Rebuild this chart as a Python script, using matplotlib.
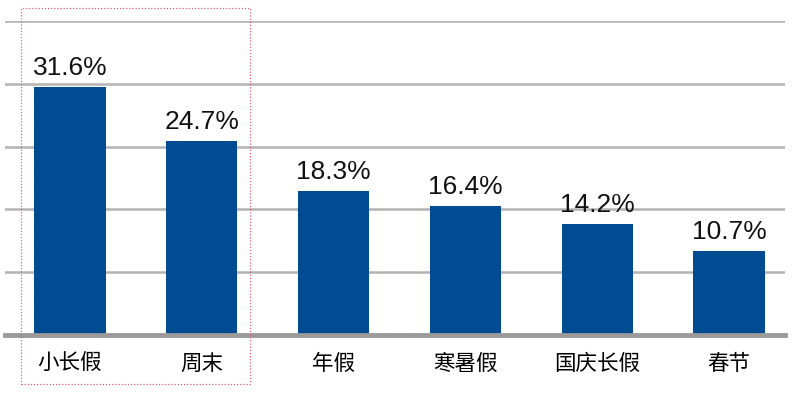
import matplotlib
matplotlib.use("Agg")
import matplotlib.pyplot as plt
from matplotlib.patches import Rectangle

plt.rcParams['font.family'] = ['Liberation Sans', 'Noto Sans CJK SC', 'DejaVu Sans']

# data
categories = ["小长假", "周末", "年假", "寒暑假", "国庆长假", "春节"]
values = [31.6, 24.7, 18.3, 16.4, 14.2, 10.7]
labels = ["31.6%", "24.7%", "18.3%", "16.4%", "14.2%", "10.7%"]

W, H = 800, 394
fig = plt.figure(figsize=(W / 100, H / 100), dpi=100)
ax = fig.add_axes([5 / W, (H - 335) / H, 780 / W, (335 - 21) / H])

x = range(len(categories))
bars = ax.bar(x, values, width=0.54, color="#004b91", zorder=3)

ax.set_xlim(-0.493, 5.425)
ax.set_ylim(0, 40)
ax.set_yticks([8, 16, 24, 32, 40])
ax.yaxis.grid(True, color="#b3b3b3", linewidth=1.8, zorder=0)
ax.tick_params(axis="y", length=0, labelleft=False)
ax.tick_params(axis="x", length=0, pad=13)
ax.set_xticks(list(x))
ax.set_xticklabels(categories, fontsize=15.5, family=['Noto Sans CJK SC', 'DejaVu Sans'])

for s in ["top", "right", "left"]:
    ax.spines[s].set_visible(False)
ax.spines["bottom"].set_color("#9a9a9a")
ax.spines["bottom"].set_linewidth(3.5)
ax.spines["bottom"].set_zorder(4)

for b, lab in zip(bars, labels):
    ax.annotate(lab, (b.get_x() + b.get_width() / 2, b.get_height()),
                xytext=(0, 5), textcoords="offset points",
                ha="center", va="bottom", fontsize=19, color="#111111")

# red dotted highlight box around the first two categories
fig.patches.append(Rectangle((21 / W, (H - 384) / H), 229 / W, 376 / H,
                             transform=fig.transFigure, fill=False,
                             edgecolor="#e06070", linestyle=(0, (1, 1.5)),
                             linewidth=0.9, zorder=10))

fig.savefig("out.png", dpi=100)
